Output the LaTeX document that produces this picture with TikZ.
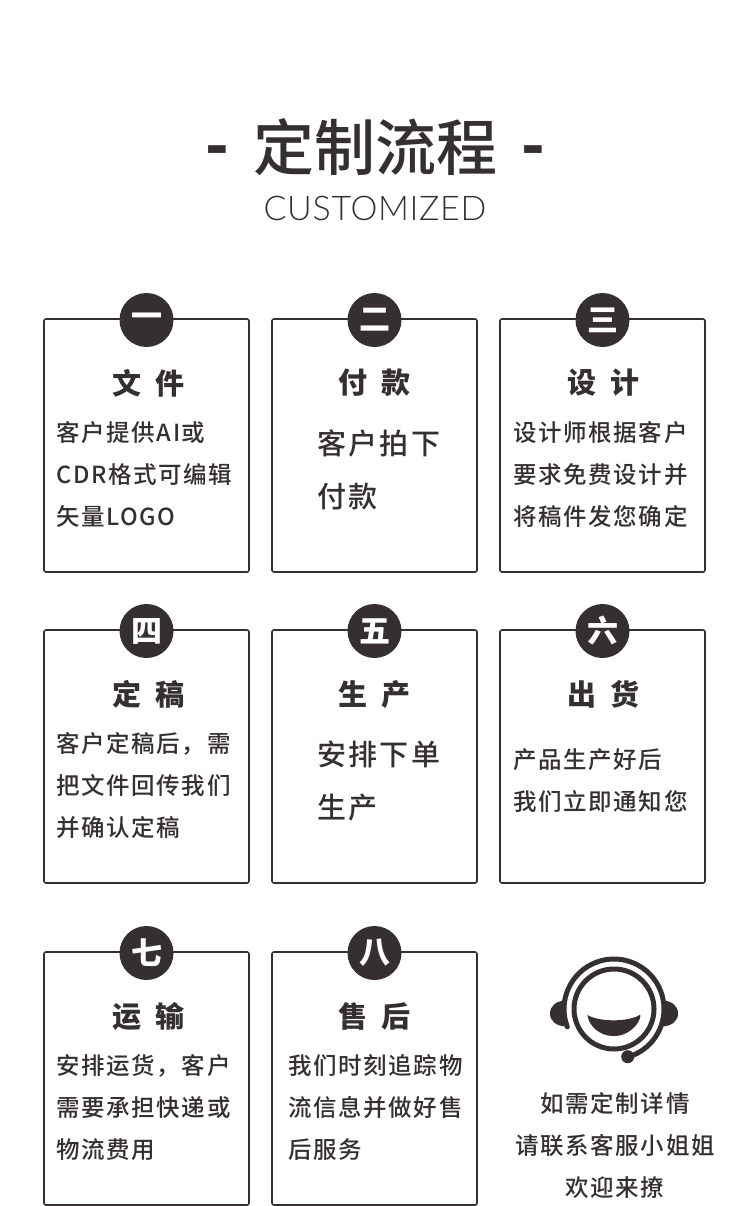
\documentclass[tikz,border=0pt]{standalone}
\usepackage{fontspec}
\usepackage{xcolor}
\usetikzlibrary{positioning}
\newfontfamily\cjk{Noto Sans CJK SC}
\newfontfamily\cjktitle{Noto Sans CJK SC Medium}
\newfontfamily\cjkbody[LetterSpace=7]{Noto Sans CJK SC Medium}
\newfontfamily\cjkbig[LetterSpace=8]{Noto Sans CJK SC Medium}
\newfontfamily\thinfont[LetterSpace=2]{Lato Light}
\definecolor{ink}{HTML}{352F2F}
\begin{document}
\begin{tikzpicture}[x=1pt,y=-1pt,node distance=23pt,text=ink,
  card/.style={draw=ink,line width=1.6pt,rounded corners=2pt,minimum width=205pt,minimum height=253pt,outer sep=0pt},
  badge/.style={circle,fill=ink,minimum size=54pt,inner sep=0pt,yshift=-1pt,text=white,font=\cjk\bfseries\fontsize{31}{31}\selectfont},
  heading/.style={inner sep=0pt,font=\cjk\bfseries\fontsize{29}{29}\selectfont},
  bodytext/.style={inner sep=0pt,align=left,font=\cjkbody\fontsize{23.5}{42}\selectfont},
  bigtext/.style={inner sep=0pt,align=left,font=\cjkbig\fontsize{29}{53}\selectfont},
  dashmark/.style={inner sep=0pt,yshift=-10pt,font=\cjk\bfseries\fontsize{62}{62}\selectfont}]
\useasboundingbox (0,0) rectangle (750,1206);
% title
\node[inner sep=0pt,font=\cjktitle\fontsize{61}{61}\selectfont] (title) at (375,147) {定制流程};
\node[dashmark,left=23pt of title] (dashleft) {-};
\node[dashmark,right=24pt of title] (dashright) {-};
\node[inner sep=0pt,font=\thinfont\fontsize{34}{34}\selectfont] (subtitle) at (375,208) {CUSTOMIZED};
% cards
\node[card] (cardone) at (146.5,445.5) {};
\node[card,right=of cardone] (cardtwo) {};
\node[card,right=of cardtwo] (cardthree) {};
\node[card] (cardfour) at (146.5,756.5) {};
\node[card,right=of cardfour] (cardfive) {};
\node[card,right=of cardfive] (cardsix) {};
\node[card] (cardseven) at (146.5,1078.5) {};
\node[card,right=of cardseven] (cardeight) {};
% badges
\node[badge] (badgeone) at (cardone.north) {一};
\node[badge] (badgetwo) at (cardtwo.north) {二};
\node[badge] (badgethree) at (cardthree.north) {三};
\node[badge] (badgefour) at (cardfour.north) {四};
\node[badge] (badgefive) at (cardfive.north) {五};
\node[badge] (badgesix) at (cardsix.north) {六};
\node[badge] (badgeseven) at (cardseven.north) {七};
\node[badge] (badgeeight) at (cardeight.north) {八};
% headings
\node[heading,xshift=2pt,below=50pt of cardone.north] (headone) {文\ \ 件};
\node[heading,below=50pt of cardtwo.north] (headtwo) {付\ \ 款};
\node[heading,xshift=1pt,below=50pt of cardthree.north] (headthree) {设\ \ 计};
\node[heading,xshift=2pt,below=50pt of cardfour.north] (headfour) {定\ \ 稿};
\node[heading,below=50pt of cardfive.north] (headfive) {生\ \ 产};
\node[heading,xshift=1pt,below=50pt of cardsix.north] (headsix) {出\ \ 货};
\node[heading,xshift=2pt,below=50pt of cardseven.north] (headseven) {运\ \ 输};
\node[heading,below=50pt of cardeight.north] (headeight) {售\ \ 后};
% body text
\node[bodytext,below right=102pt and 12pt of cardone.north west] (textone) {客户提供AI或\\CDR格式可编辑\\矢量LOGO};
\node[bigtext,below right=111pt and 45pt of cardtwo.north west] (texttwo) {客户拍下\\付款};
\node[bodytext,below right=102pt and 13pt of cardthree.north west] (textthree) {设计师根据客户\\要求免费设计并\\将稿件发您确定};
\node[bodytext,below right=102pt and 12pt of cardfour.north west] (textfour) {客户定稿后，需\\把文件回传我们\\并确认定稿};
\node[bigtext,below right=111pt and 45pt of cardfive.north west] (textfive) {安排下单\\生产};
\node[bodytext,below right=118pt and 13pt of cardsix.north west] (textsix) {产品生产好后\\我们立即通知您};
\node[bodytext,below right=102pt and 12pt of cardseven.north west] (textseven) {安排运货，客户\\需要承担快递或\\物流费用};
\node[bodytext,below right=102pt and 16pt of cardeight.north west] (texteight) {我们时刻追踪物\\流信息并做好售\\后服务};
\node[bodytext,align=center] (contact) at (615,1145) {如需定制详情\\请联系客服小姐姐\\欢迎来撩};
% headset
\coordinate (face) at (614,1009);
\draw[ink,line width=5pt] (face) circle[radius=40pt];
\draw[ink,line width=5pt,line cap=round,shift={(face)}] (201:50pt) arc[start angle=201,end angle=-67,radius=50pt];
\node[circle,fill=ink,minimum size=13pt,inner sep=0pt] (micdot) at (627.7,1056.7) {};
\fill[ink] (565,1000.5) .. controls (556,1001) and (550,1006) .. (550,1013.5) .. controls (550,1021) and (556,1026) .. (566,1026.5) -- cycle;
\fill[ink] (663,1000.5) .. controls (672,1001) and (678,1006) .. (678,1013.5) .. controls (678,1021) and (672,1026) .. (662,1026.5) -- cycle;
\fill[ink,rounded corners=1pt] (587.5,1015) .. controls (600,1022) and (628,1022) .. (640.5,1014.5) .. controls (640,1024) and (628,1036) .. (614,1036) .. controls (600,1036) and (589,1026) .. (587.5,1015) -- cycle;
\end{tikzpicture}
\end{document}
